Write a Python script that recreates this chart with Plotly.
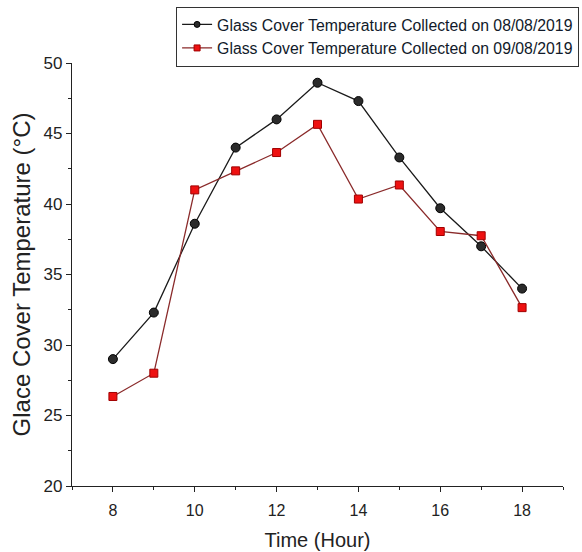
import plotly.graph_objects as go

hours = [8, 9, 10, 11, 12, 13, 14, 15, 16, 17, 18]
temp_0808 = [29.0, 32.3, 38.6, 44.0, 46.0, 48.6, 47.3, 43.3, 39.7, 37.0, 34.0]
temp_0908 = [26.35, 28.0, 41.0, 42.35, 43.65, 45.65, 40.35, 41.35, 38.05, 37.75, 32.65]
name_0808 = "Glass Cover Temperature Collected on 08/08/2019"
name_0908 = "Glass Cover Temperature Collected on 09/08/2019"
x_ticks = [8, 10, 12, 14, 16, 18]
y_ticks = [20, 25, 30, 35, 40, 45, 50]
x_minor = [7, 9, 11, 13, 15, 17, 19]
y_minor = [22.5, 27.5, 32.5, 37.5, 42.5, 47.5]

FONT = "Liberation Sans, Arial, sans-serif"
AX = "#222222"

series = [
    (name_0808, temp_0808, "#1a1a1a", "circle", "#2b2b2b", "#000000", 9),
    (name_0908, temp_0908, "#8a2a2a", "square", "#ee1111", "#a00000", 8),
]

fig = go.Figure()
for name, vals, lc, sym, mc, mlc, ms in series:
    fig.add_trace(go.Scatter(
        x=hours, y=vals, name=name, mode="lines+markers", showlegend=False,
        line=dict(color=lc, width=1.3),
        marker=dict(symbol=sym, size=ms, color=mc, line=dict(color=mlc, width=1)),
    ))
# legend entries (smaller markers, as in the original legend)
for name, vals, lc, sym, mc, mlc, ms in series:
    fig.add_trace(go.Scatter(
        x=[None], y=[None], name=name, mode="lines+markers", showlegend=True,
        line=dict(color=lc, width=1.3),
        marker=dict(symbol=sym, size=6, color=mc, line=dict(color=mlc, width=1)),
    ))

fig.update_layout(
    width=582, height=552,
    margin=dict(l=72, r=19, t=63, b=66, autoexpand=False),
    paper_bgcolor="white", plot_bgcolor="white",
    font=dict(family=FONT, color=AX),
    showlegend=True,
    legend=dict(
        xref="container", yref="container",
        x=0.995, y=0.988, xanchor="right", yanchor="top",
        bgcolor="white", bordercolor="#333333", borderwidth=1,
        font=dict(size=15.8, family=FONT, color="#111a2a"),
        tracegroupgap=0, itemwidth=30,
    ),
    xaxis=dict(
        range=[7, 19], tickvals=x_ticks, ticktext=[str(v) for v in x_ticks],
        showgrid=False, zeroline=False, automargin=False,
        showline=True, linecolor=AX, linewidth=1.2,
        ticks="outside", ticklen=5, tickcolor=AX,
        ticklabelstandoff=5, tickangle=0,
        minor=dict(tickvals=x_minor, ticks="outside", ticklen=3, tickcolor=AX),
        tickfont=dict(size=16, family=FONT, color=AX),
        title=dict(text="Time (Hour)", font=dict(size=20, family=FONT, color=AX),
                   standoff=14),
    ),
    yaxis=dict(
        range=[20, 50], tickvals=y_ticks, ticktext=[str(v) for v in y_ticks],
        showgrid=False, zeroline=False, automargin=False,
        showline=True, linecolor=AX, linewidth=1.2,
        ticks="outside", ticklen=5, tickcolor=AX,
        minor=dict(tickvals=y_minor, ticks="outside", ticklen=3, tickcolor=AX),
        tickfont=dict(size=17, family=FONT, color=AX),
        title=dict(text="Glace Cover Temperature (°C)",
                   font=dict(size=24, family=FONT, color=AX), standoff=6),
    ),
)

fig.write_html("out.html")
